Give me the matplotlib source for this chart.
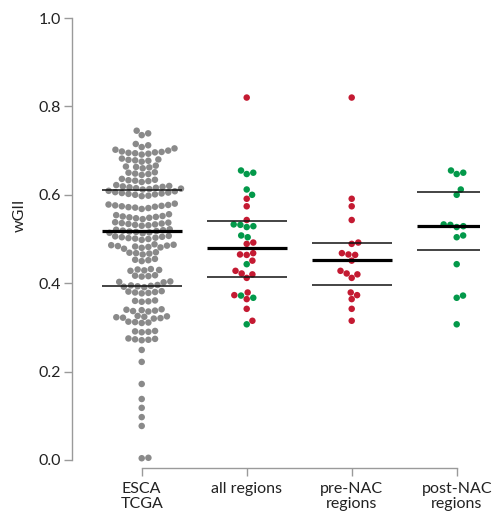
"""
wGII beeswarm: ESCA TCGA vs. multi-region samples (pre/post NAC)
"""

import matplotlib
matplotlib.use('Agg')

import numpy as np
import matplotlib.pyplot as plt

plt.rcParams['font.family'] = ['Lato', 'DejaVu Sans']

# --- data ---
categories = ['ESCA\nTCGA', 'all regions', 'pre-NAC\nregions', 'post-NAC\nregions']

esca_tcga = [
    0.745, 0.739, 0.735,
    0.715, 0.712, 0.708, 0.705,
    0.702, 0.700, 0.698, 0.697, 0.696, 0.695, 0.694, 0.693, 0.691,
    0.682, 0.680, 0.679, 0.678, 0.677, 0.675,
    0.666, 0.664, 0.663, 0.662, 0.660,
    0.651, 0.650, 0.648, 0.647, 0.645,
    0.636, 0.634, 0.633, 0.632, 0.631, 0.629,
    0.622, 0.620, 0.619, 0.618, 0.617, 0.616, 0.615, 0.614, 0.613, 0.612, 0.609,
    0.608, 0.606, 0.605, 0.604, 0.603, 0.602, 0.601, 0.600, 0.598, 0.597,
    0.580, 0.578, 0.577, 0.576, 0.575, 0.574, 0.573, 0.572, 0.571, 0.570, 0.568,
    0.556, 0.554, 0.552, 0.551, 0.550, 0.549, 0.548, 0.547, 0.545,
    0.538, 0.537, 0.536, 0.535, 0.534, 0.533, 0.532, 0.531, 0.530,
    0.522, 0.521, 0.520, 0.519, 0.518, 0.517, 0.516, 0.515, 0.514, 0.513,
    0.507, 0.506, 0.505, 0.504, 0.503, 0.502, 0.501, 0.500, 0.498,
    0.488, 0.487, 0.486, 0.485, 0.484, 0.483, 0.482, 0.481, 0.480, 0.478,
    0.470, 0.469, 0.468, 0.467, 0.465,
    0.455, 0.453, 0.452, 0.450,
    0.432, 0.431, 0.430, 0.429, 0.428,
    0.418, 0.417, 0.416, 0.415,
    0.404, 0.403, 0.402,
    0.396, 0.395, 0.394, 0.393, 0.392, 0.391,
    0.382, 0.381, 0.380, 0.379, 0.378, 0.377,
    0.361, 0.360, 0.359, 0.358,
    0.341, 0.340, 0.339, 0.338, 0.337, 0.336,
    0.326, 0.325, 0.324, 0.323, 0.322, 0.321, 0.320,
    0.313, 0.312, 0.311, 0.310,
    0.292, 0.291, 0.290, 0.289,
    0.275, 0.274, 0.273, 0.272, 0.271,
    0.249, 0.222, 0.172, 0.138, 0.118, 0.097, 0.077,
    0.005, 0.004,
]

pre_nac = [0.820, 0.591, 0.574, 0.543, 0.492, 0.489, 0.468, 0.465, 0.464, 0.451,
           0.428, 0.422, 0.420, 0.412, 0.379, 0.373, 0.364, 0.342, 0.315]

post_nac = [0.655, 0.650, 0.647, 0.612, 0.600, 0.533, 0.532, 0.529, 0.527,
            0.508, 0.504, 0.443, 0.372, 0.367, 0.307]

# median and quartiles (as drawn)
medians = [0.519, 0.480, 0.453, 0.529]
q1 = [0.394, 0.414, 0.396, 0.474]
q3 = [0.611, 0.541, 0.491, 0.607]

GREY = '#8a8a8a'
RED = '#c41a32'
GREEN = '#03994a'
DOT_PX = 6.5


def beeswarm(ypx, d):
    """x offsets (px) so that no two dots overlap"""
    xs = np.zeros(len(ypx))
    placed = []
    for i in np.argsort(ypx, kind='stable'):
        y = ypx[i]
        near = [j for j in placed if abs(ypx[j] - y) < d]
        cands = [0.0]
        for j in near:
            dx = np.sqrt(d * d - (ypx[j] - y) ** 2)
            cands += [xs[j] + dx, xs[j] - dx]
        cands.sort(key=abs)
        for c in cands:
            if all((xs[j] - c) ** 2 + (ypx[j] - y) ** 2 >= d * d - 1e-6 for j in near):
                xs[i] = c
                break
        placed.append(i)
    return xs


fig = plt.figure(figsize=(4.93, 5.2), dpi=100)
ax = fig.add_axes([72 / 493, 52 / 520, (480 - 72) / 493, (468 - 18) / 520])
ax.set_xlim(-0.664, 3.222)
ax.set_ylim(-0.0181, 1.0)

groups = [
    (esca_tcga, [GREY] * len(esca_tcga)),
    (pre_nac + post_nac, [RED] * len(pre_nac) + [GREEN] * len(post_nac)),
    (pre_nac, [RED] * len(pre_nac)),
    (post_nac, [GREEN] * len(post_nac)),
]

px_per_x = ax.transData.transform([[1, 0]])[0, 0] - ax.transData.transform([[0, 0]])[0, 0]
s = (DOT_PX * 72 / fig.dpi) ** 2

for k, (vals, cols) in enumerate(groups):
    vals = np.asarray(vals)
    ypx = ax.transData.transform(np.column_stack([np.zeros_like(vals), vals]))[:, 1]
    off = beeswarm(ypx, DOT_PX + 0.2) / px_per_x
    ax.scatter(k + off, vals, s=s, c=cols, linewidths=0, zorder=2)

    ax.hlines(medians[k], k - 0.38, k + 0.38, color='black', lw=2.3, zorder=3)
    ax.hlines([q1[k], q3[k]], k - 0.38, k + 0.38, color='#111111', lw=1.1, zorder=3)

for side in ['top', 'right']:
    ax.spines[side].set_visible(False)
ax.spines['left'].set_bounds(0, 1)
ax.spines['bottom'].set_bounds(0, 3)
for side in ['left', 'bottom']:
    ax.spines[side].set_color('#9a9a9a')
    ax.spines[side].set_linewidth(1.0)

ax.set_yticks([0.0, 0.2, 0.4, 0.6, 0.8, 1.0])
ax.set_yticklabels(['0.0', '0.2', '0.4', '0.6', '0.8', '1.0'])
ax.set_xticks(range(len(categories)))
ax.set_xticklabels(categories, linespacing=1.1)
ax.tick_params(axis='both', colors='#9a9a9a', labelcolor='#222222',
               labelsize=11.5, length=6, width=1.0, pad=2)
ax.tick_params(axis='x', pad=4)

fig.text(20 / 493, 1 - 215 / 520, 'wGII', rotation=90, ha='center', va='center',
         fontsize=11.5, color='#222222')

plt.savefig('out.png', dpi=100)
plt.close()
